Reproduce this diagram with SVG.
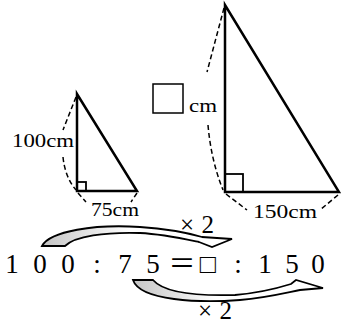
<svg xmlns="http://www.w3.org/2000/svg" width="341" height="326" viewBox="0 0 341 326">
<style>
.tri{fill:none;stroke:#000;stroke-width:2.5;stroke-linejoin:miter}
.ra{fill:none;stroke:#000;stroke-width:1.8}
.dash{fill:none;stroke:#000;stroke-width:1.5;stroke-dasharray:5 3}
.arr{stroke:#000;stroke-width:1.8;stroke-linejoin:miter}
</style>
<defs>
<linearGradient id="g1" gradientUnits="userSpaceOnUse" x1="42" y1="0" x2="130" y2="0">
<stop offset="0" stop-color="#c4c4c4"/><stop offset="1" stop-color="#fff"/>
</linearGradient>
<linearGradient id="g2" gradientUnits="userSpaceOnUse" x1="133" y1="0" x2="215" y2="0">
<stop offset="0" stop-color="#c4c4c4"/><stop offset="1" stop-color="#fff"/>
</linearGradient>
</defs>
<rect width="341" height="326" fill="#fff"/>
<g id="small-triangle">
<path class="tri" d="M77,94 L77,191 L137,191 Z"/>
<rect class="ra" x="77" y="182" width="9" height="9"/>
<path class="dash" d="M76,97 L63,130"/>
<path class="dash" d="M63,157 Q65,177 76,190"/>
<path class="dash" d="M78,193 L86,202"/>
<path class="dash" d="M137,193 L131,202"/>
<text font-family="Liberation Serif, serif" font-size="19" x="12" y="147" textLength="62" lengthAdjust="spacingAndGlyphs">100cm</text>
<text font-family="Liberation Serif, serif" font-size="19" x="91" y="216" textLength="48" lengthAdjust="spacingAndGlyphs">75cm</text>
</g>
<g id="large-triangle">
<path class="tri" d="M225,5 L225,192 L339,192 Z"/>
<rect class="ra" x="225" y="174" width="18" height="18"/>
<path class="dash" d="M224,8 L207,72"/>
<path class="dash" d="M208,125 Q211,160 223,190"/>
<path class="dash" d="M226,194 L247,210"/>
<path class="dash" d="M338,195 L320,210"/>
<rect x="153" y="84" width="30" height="29" fill="none" stroke="#000" stroke-width="1.5"/>
<text font-family="Liberation Serif, serif" font-size="19" x="189" y="112" textLength="28" lengthAdjust="spacingAndGlyphs">cm</text>
<text font-family="Liberation Serif, serif" font-size="19" x="253" y="218" textLength="64" lengthAdjust="spacingAndGlyphs">150cm</text>
</g>
<g id="equation">
<text font-family="Liberation Serif, Noto Sans CJK JP, serif" font-size="27" y="273" text-anchor="middle" x="12 40 68 97 125 153 182 208 238 265 292 318">100:75＝□:150</text>
</g>
<g id="connectors">
<path class="arr" fill="url(#g1)" d="M42,246 C50,231 95,224 140,227 C170,229 188,233 202,237 L232,239 L212,247 L199,242 C180,238 162,234 140,233 C105,232 75,236 65,246 Z"/>
<path class="arr" fill="url(#g2)" d="M133,280 C140,301 200,303 240,300 C265,298 285,293 300,290 L323,288 L296,280 L291,284 C275,289 258,293 235,295 C200,296 165,294 153,280 Z"/>
<text font-family="Liberation Serif, serif" font-size="25" x="180" y="233" textLength="34" lengthAdjust="spacing">×2</text>
<text font-family="Liberation Serif, serif" font-size="25" x="198" y="319" textLength="34" lengthAdjust="spacing">×2</text>
</g>
</svg>
